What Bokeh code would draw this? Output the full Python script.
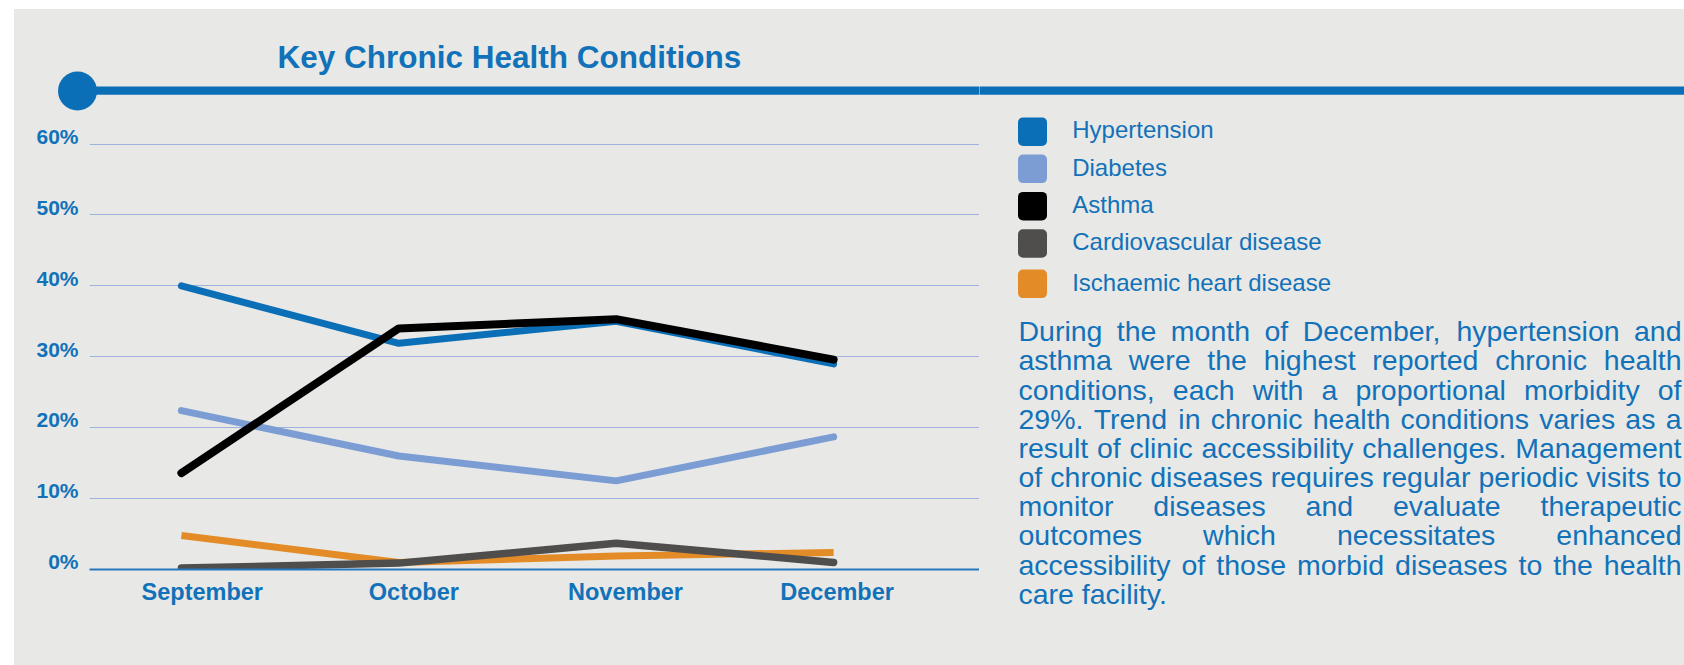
from bokeh.plotting import figure
from bokeh.layouts import row, column
from bokeh.models import (Range1d, LinearAxis, FixedTicker, Grid, Label, LabelSet,
                          BoxAnnotation, ColumnDataSource, PrintfTickFormatter, Spacer)
from bokeh.embed import file_html
from bokeh.resources import INLINE
from bokeh.core.properties import value

# ---------------- data ----------------
months = ["September", "October", "November", "December"]
hypertension = [40.0, 31.9, 35.0, 29.0]
diabetes = [22.4, 16.0, 12.5, 18.7]
asthma = [13.6, 34.0, 35.3, 29.6]
cardiovascular = [0.2, 0.9, 3.7, 1.0]
ischaemic = [4.8, 1.0, 1.9, 2.4]
series_names = ["Hypertension", "Diabetes", "Asthma",
                "Cardiovascular disease", "Ischaemic heart disease"]
y_ticks = [0, 10, 20, 30, 40, 50, 60]
title_text = "Key Chronic Health Conditions"
paragraph_lines = [
    "During the month of December, hypertension and",
    "asthma were the highest reported chronic health",
    "conditions, each with a proportional morbidity of",
    "29%. Trend in chronic health conditions varies as a",
    "result of clinic accessibility challenges. Management",
    "of chronic diseases requires regular periodic visits to",
    "monitor diseases and evaluate therapeutic",
    "outcomes which necessitates enhanced",
    "accessibility of those morbid diseases to the health",
    "care facility.",
]

# ---------------- style ----------------
BG = "#e8e8e6"
TEXT_BLUE = "#1272b9"
RULE_BLUE = "#0b6fb8"
GRID = "#9db1dc"
AXIS_BLUE = "#2577bd"
colors = ["#0b6fb8", "#7b9dd4", "#000000", "#504e4c", "#e38b27"]
FONT = "Liberation Sans"
MID = 0.3465  # middle of the text box above the baseline, in em

# page layout (px)
LEFT_MARGIN, TOP_MARGIN = 14, 9
PAGE_W, PAGE_H = 1684, 665
BANNER_BOTTOM = 111
SPLIT_X = 979
FRAME_LEFT, FRAME_TOP, FRAME_H = 89, 135, 434
FRAME_W = SPLIT_X - FRAME_LEFT
Y_END = 61.2
RULE_TOP, RULE_BOTTOM = 86, 94.3


def deco_fig(x0, x1, y0, y1):
    f = figure(width=x1 - x0, height=y1 - y0, min_border=0,
               x_range=Range1d(x0, x1), y_range=Range1d(y1, y0),
               x_axis_type=None, y_axis_type=None,
               toolbar_location=None, output_backend="svg")
    f.background_fill_color = BG
    f.border_fill_color = BG
    f.outline_line_color = None
    return f


def box(left, right, top, bottom, color, radius=0):
    return BoxAnnotation(left=left, right=right, top=top, bottom=bottom,
                         border_radius=int(radius),
                         fill_color=color, fill_alpha=1, line_color=None)


def text_label(x, baseline, text, size, bold=False):
    return Label(x=x, y=baseline - MID * size, text=text, text_font=FONT,
                 text_font_style="bold" if bold else "normal",
                 text_font_size="%.1fpx" % size, text_color=TEXT_BLUE,
                 text_align="left", text_baseline="middle")


# ---------------- banner (title, rule, dot) ----------------
banner = deco_fig(LEFT_MARGIN, SPLIT_X, TOP_MARGIN, BANNER_BOTTOM)
banner.add_layout(box(77, SPLIT_X + 5, RULE_TOP, RULE_BOTTOM, RULE_BLUE))
banner.add_layout(box(57.5, 96.5, 71, 110, RULE_BLUE, radius=20))
banner.add_layout(text_label(277, 67.3, title_text, 31.5, bold=True))

# ---------------- chart ----------------
px_per_unit = FRAME_H / Y_END
label_shift = 7.7 / px_per_unit
chart_h = PAGE_H - BANNER_BOTTOM

p = figure(frame_width=FRAME_W, frame_height=FRAME_H,
           min_border_left=FRAME_LEFT - LEFT_MARGIN, min_border_right=0,
           min_border_top=FRAME_TOP - BANNER_BOTTOM,
           min_border_bottom=chart_h - (FRAME_TOP - BANNER_BOTTOM) - FRAME_H,
           x_range=Range1d(-0.4227, 3.671), y_range=Range1d(0, Y_END),
           x_axis_type=None, y_axis_type=None,
           toolbar_location=None, output_backend="svg")
p.background_fill_color = BG
p.border_fill_color = BG
p.outline_line_color = None

p.extra_x_ranges = {"xlab": Range1d(-0.533, 3.673)}
p.extra_y_ranges = {"ylab": Range1d(-label_shift, Y_END - label_shift)}

grid = Grid(dimension=1, ticker=FixedTicker(ticks=y_ticks[1:]),
            grid_line_color=GRID, grid_line_width=1)
p.add_layout(grid)

x_idx = list(range(len(months)))
xax = LinearAxis(x_range_name="xlab", ticker=FixedTicker(ticks=x_idx),
                 major_label_overrides={i: m for i, m in enumerate(months)})
xax.axis_line_color = AXIS_BLUE
xax.axis_line_width = 2
xax.major_tick_line_color = None
xax.minor_tick_line_color = None
xax.major_tick_out = 0
xax.major_tick_in = 0
xax.minor_tick_out = 0
xax.major_label_standoff = 9
xax.major_label_text_font = FONT
xax.major_label_text_font_style = "bold"
xax.major_label_text_font_size = "23.5px"
xax.major_label_text_color = TEXT_BLUE
p.add_layout(xax, "below")

yax = LinearAxis(y_range_name="ylab", ticker=FixedTicker(ticks=y_ticks),
                 formatter=PrintfTickFormatter(format="%d%%"))
yax.axis_line_color = None
yax.major_tick_line_color = None
yax.minor_tick_line_color = None
yax.major_tick_out = 0
yax.major_tick_in = 0
yax.minor_tick_out = 0
yax.major_label_standoff = 11
yax.major_label_text_font = FONT
yax.major_label_text_font_style = "bold"
yax.major_label_text_font_size = "21px"
yax.major_label_text_color = TEXT_BLUE
p.add_layout(yax, "left")

src = ColumnDataSource(dict(x=x_idx, hyp=hypertension, dia=diabetes, ast=asthma,
                            car=cardiovascular, isc=ischaemic))
p.line("x", "hyp", source=src, line_color=colors[0], line_width=7, line_cap="round", line_join="round")
p.line("x", "dia", source=src, line_color=colors[1], line_width=7, line_cap="round", line_join="round")
p.line("x", "isc", source=src, line_color=colors[4], line_width=7, line_cap="butt", line_join="round")
p.line("x", "car", source=src, line_color=colors[3], line_width=7.5, line_cap="round", line_join="round")
p.line("x", "ast", source=src, line_color=colors[2], line_width=8, line_cap="round", line_join="round")

# ---------------- side panel (rule continuation, legend, paragraph) ----------------
side = deco_fig(SPLIT_X, PAGE_W, TOP_MARGIN, PAGE_H)
side.add_layout(box(SPLIT_X - 5, PAGE_W + 10, RULE_TOP, RULE_BOTTOM, RULE_BLUE))

legend_centers = [131.2, 168.3, 205.7, 243.0, 283.3]
for name, col, cy in zip(series_names, colors, legend_centers):
    side.add_layout(box(1017.5, 1046.5, cy - 14.3, cy + 14.3, col, radius=5))
    side.add_layout(text_label(1071.7, cy + 6.6, name, 24))

ARIAL = {
    'a': 556, 'b': 556, 'c': 500, 'd': 556, 'e': 556, 'f': 278, 'g': 556, 'h': 556,
    'i': 222, 'j': 222, 'k': 500, 'l': 222, 'm': 833, 'n': 556, 'o': 556, 'p': 556,
    'q': 556, 'r': 333, 's': 500, 't': 278, 'u': 556, 'v': 500, 'w': 722, 'x': 500,
    'y': 500, 'z': 500, 'D': 722, 'T': 611, 'M': 833, '2': 556, '9': 556, '%': 889,
    '.': 278, ',': 278, ' ': 278,
}


def tw(s, size):
    return sum(ARIAL.get(c, 556) for c in s) * size / 1000.0


PARA_X0, PARA_X1 = 1018.0, 1681.0
PARA_SIZE = 28.5
PARA_BASE0, PARA_STEP = 340.7, 29.18
wx, wy, wt = [], [], []
for li, line in enumerate(paragraph_lines):
    ws = line.split()
    base = PARA_BASE0 + li * PARA_STEP
    if li == len(paragraph_lines) - 1 or len(ws) == 1:
        gap = tw(" ", PARA_SIZE)
    else:
        gap = (PARA_X1 - PARA_X0 - sum(tw(w, PARA_SIZE) for w in ws)) / (len(ws) - 1)
    x = PARA_X0
    for w in ws:
        wx.append(x)
        wy.append(base)
        wt.append(w)
        x += tw(w, PARA_SIZE) + gap

side.add_layout(LabelSet(x="x", y="y", text="t",
                         source=ColumnDataSource(dict(x=wx, y=wy, t=wt)),
                         text_font=value(FONT), text_font_size=value("%.1fpx" % PARA_SIZE),
                         text_color=TEXT_BLUE, text_align="left",
                         text_baseline="alphabetic"))

inner = row(column(row(banner), row(p)), side, styles={"background-color": BG})
layout = column(Spacer(width=PAGE_W, height=TOP_MARGIN),
                row(Spacer(width=LEFT_MARGIN, height=PAGE_H - TOP_MARGIN), inner))

open("out.html", "w").write(file_html(layout, INLINE))
